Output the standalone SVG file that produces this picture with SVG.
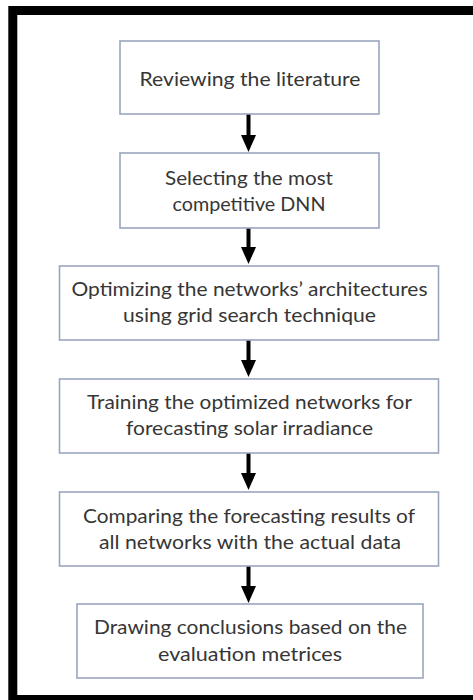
<svg xmlns="http://www.w3.org/2000/svg" width="473" height="700" viewBox="0 0 473 700">
  <defs>
    <style>
      .box { fill: #ffffff; stroke: #9aa6bf; stroke-width: 1.6; }
      .lbl { font-family: Lato, "Liberation Sans", sans-serif; font-size: 20px; fill: #363636; text-anchor: middle; }
      .frame { fill: none; stroke: #000000; stroke-width: 9; }
      .flow { stroke: #000000; stroke-width: 4; fill: none; marker-end: url(#head); }
    </style>
    <!-- arrowhead: base sits at the end of the shaft, tip extends 17px beyond -->
    <marker id="head" markerUnits="userSpaceOnUse" viewBox="0 0 17 15" markerWidth="17" markerHeight="15" refX="0" refY="7.5" orient="auto">
      <path d="M0,0 L17,7.5 L0,15 Z" fill="#000000"/>
    </marker>
  </defs>

  <rect width="473" height="700" fill="#ffffff"/>

  <!-- outer frame (left, top and bottom edges; open at the right) -->
  <path class="frame" d="M480,10.5 H12.8 V699.5 H480"/>

  <!-- connectors -->
  <g id="connectors">
    <line class="flow" x1="248.5" y1="114" x2="248.5" y2="135"/>
    <line class="flow" x1="248.5" y1="228" x2="248.5" y2="247"/>
    <line class="flow" x1="248.5" y1="340" x2="248.5" y2="360"/>
    <line class="flow" x1="248.5" y1="453" x2="248.5" y2="473"/>
    <line class="flow" x1="248.5" y1="566" x2="248.5" y2="586"/>
  </g>

  <g id="review">
    <rect class="box" x="120" y="41" width="259" height="73"/>
    <text class="lbl" x="250" y="86" textLength="221" lengthAdjust="spacingAndGlyphs">Reviewing the literature</text>
  </g>

  <g id="select">
    <rect class="box" x="120" y="153" width="259" height="75"/>
    <text class="lbl" x="249" y="185" textLength="168" lengthAdjust="spacingAndGlyphs">Selecting the most</text>
    <text class="lbl" x="249" y="211" textLength="153" lengthAdjust="spacingAndGlyphs">competitive DNN</text>
  </g>

  <g id="optimize">
    <rect class="box" x="59.5" y="266" width="379" height="74"/>
    <text class="lbl" x="249.5" y="296" textLength="356" lengthAdjust="spacingAndGlyphs">Optimizing the networks’ architectures</text>
    <text class="lbl" x="249.5" y="322" textLength="253" lengthAdjust="spacingAndGlyphs">using grid search technique</text>
  </g>

  <g id="train">
    <rect class="box" x="59.5" y="379" width="379" height="74"/>
    <text class="lbl" x="249.5" y="409" textLength="325" lengthAdjust="spacingAndGlyphs">Training the optimized networks for</text>
    <text class="lbl" x="249.5" y="435" textLength="247" lengthAdjust="spacingAndGlyphs">forecasting solar irradiance</text>
  </g>

  <g id="compare">
    <rect class="box" x="59.5" y="492" width="379" height="74"/>
    <text class="lbl" x="249" y="523" textLength="332" lengthAdjust="spacingAndGlyphs">Comparing the forecasting results of</text>
    <text class="lbl" x="250" y="549" textLength="302" lengthAdjust="spacingAndGlyphs">all networks with the actual data</text>
  </g>

  <g id="conclude">
    <rect class="box" x="77" y="604" width="346" height="74"/>
    <text class="lbl" x="250.5" y="634" textLength="313" lengthAdjust="spacingAndGlyphs">Drawing conclusions based on the</text>
    <text class="lbl" x="250" y="661" textLength="184" lengthAdjust="spacingAndGlyphs">evaluation metrices</text>
  </g>
</svg>
